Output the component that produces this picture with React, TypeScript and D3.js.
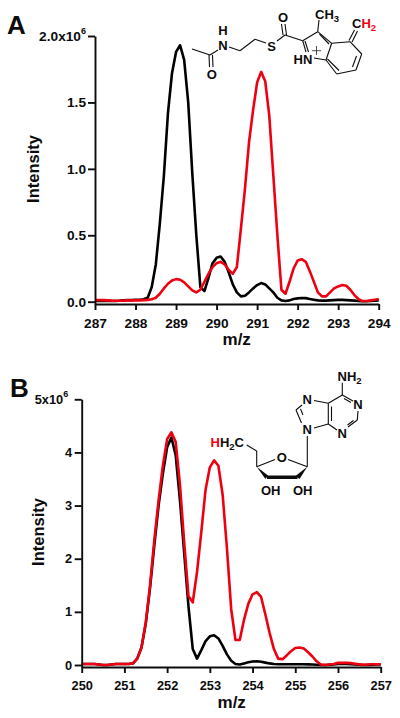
import React, { useEffect, useRef } from 'react';
import * as d3 from 'd3';

// m/z sampled every 0.1 unit, intensities in units of 1e6
const blackA = [
  .005, .005, .005, .005, .005, .005, .007, .01, .012, .012,
  .015, .015, .018, .03, .11, .28, .59, .95, 1.42, 1.72,
  1.88, 1.93, 1.82, 1.5, .97, .5, .11, .08, .18, .29,
  .33, .34, .3, .22, .13, .07, .04, .045, .07, .1,
  .125, .14, .13, .1, .07, .03, .01, .005, .01, .02,
  .025, .028, .027, .02, .015, .01, .008, .008, .01, .012,
  .014, .014, .012, .01, .008, .005, .003, .003, .005, .008,
  .01,
];
const redA = [
  .012, .012, .012, .01, .008, .007, .007, .008, .01, .01,
  .01, .01, .012, .014, .018, .03, .06, .1, .135, .16,
  .17, .165, .145, .115, .085, .07, .09, .15, .21, .26,
  .29, .3, .28, .24, .21, .26, .55, .85, 1.2, 1.44,
  1.65, 1.73, 1.66, 1.4, .95, .5, .09, .06, .15, .25,
  .31, .32, .3, .23, .15, .07, .04, .04, .07, .1,
  .115, .125, .12, .09, .05, .02, .005, .005, .01, .015,
  .02,
];
const blackB = [
  .02, .02, .02, .02, .01, 0, 0, .01, .02, .02,
  .02, .02, .03, .12, .33, .78, 1.45, 2.25, 3.0, 3.6,
  4.1, 4.28, 3.95, 3.1, 2.1, 1.1, .3, .12, .28, .45,
  .54, .56, .5, .36, .2, .08, .02, .01, .03, .05,
  .065, .07, .06, .045, .03, .02, .015, .015, .015, .015,
  .015, .015, .015, .012, .01, .005, 0, 0, .005, .01,
  .02, .02, .02, .015, .01, .005, 0, 0, .005, .01,
  .01,
];
const redB = [
  .02, .02, .02, .02, .01, 0, 0, .01, .02, .02,
  .02, .02, .03, .12, .33, .8, 1.5, 2.35, 3.1, 3.75,
  4.25, 4.38, 4.2, 3.4, 2.3, 1.3, 1.18, 1.75, 2.5, 3.3,
  3.72, 3.85, 3.75, 3.2, 2.2, 1.05, .47, .47, .85, 1.15,
  1.33, 1.37, 1.28, .95, .6, .3, .12, .11, .18, .26,
  .32, .33, .31, .24, .16, .07, .01, 0, .01, .02,
  .04, .04, .04, .035, .025, .012, .005, .01, .015, .015,
  .015,
];
const ticksA = [0, 0.5, 1, 1.5, 2];
const ticksB = [0, 1, 2, 3, 4, 5];

const INK = '#0c0c0c';
const RED = '#ee0010';
const LABEL_FONT = '"Liberation Sans", Arial, sans-serif';

type Seg = [number, number, number, number];
type Lab = [string, number, number];

// structure drawings, pixel coordinates of the figure
const bondsA: Seg[] = [
  [192, 49, 210, 55], [210, 55, 218, 50], [229, 47, 240, 50.7], [240, 50.7, 255, 39.3], [255, 39.3, 266, 43],
  [277, 41, 285, 35], [285, 35, 302.7, 40.7], [302.7, 40.7, 317.7, 31.7], [317.7, 31.7, 331.7, 43.3],
  [331.7, 43.3, 326, 60], [326, 60, 314, 58], [302.7, 40.7, 306, 52], [317.7, 31.7, 319, 20],
  [331.7, 43.3, 350, 41.7], [350, 41.7, 361.7, 54], [361.7, 54, 356, 70], [356, 70, 336.7, 74],
  [336.7, 74, 326, 60], [209, 55, 209.5, 67], [212.5, 55, 213, 67], [283, 35, 281.5, 24], [286.5, 35, 285, 24],
  [305, 41, 308.5, 52], [319.5, 34, 329, 44], [349, 40.5, 354.5, 30], [352, 42, 357.5, 31],
  [356.5, 56, 352.5, 67], [339, 70.5, 327.5, 59],
];
const plusA: Seg[] = [[312, 50.7, 321, 50.7], [316.5, 46, 316.5, 55]];
const labelsA: Lab[] = [
  ['H', 223, 30.5], ['N', 223, 45.5], ['O', 211.7, 74], ['S', 271.7, 46.7], ['O', 283, 17], ['HN', 303, 59.5],
];
const bondsB: Seg[] = [
  [342.3, 382.7, 342.3, 395], [342.3, 395, 353, 401], [358, 411, 357.3, 420], [357.3, 420, 348, 427],
  [337, 430, 328.3, 424], [328.3, 424, 328.3, 403.3], [328.3, 403.3, 342.3, 395], [328.3, 403.3, 314, 400.5],
  [302, 405, 296, 410], [296, 410, 301.5, 423], [314, 428, 328.3, 424], [307.3, 436, 307.3, 466.7],
  [307.3, 466.7, 288, 459.5], [275, 459.5, 256.7, 466.7], [256.7, 466.7, 256.7, 451], [256.7, 451, 246.7, 445],
  [344, 398.5, 351, 402.5], [353.5, 420.5, 347.5, 425], [331.5, 421, 331.5, 406.5], [300.5, 409, 303, 415],
];
const wedgesB: string[] = [
  '256.7,466.7 268,475.5 265.5,479', '267,475.5 297.5,475.5 297.5,479 267,479', '307.3,466.7 299.5,479 295.5,476',
];
const labelsB: Lab[] = [
  ['N', 358, 404], ['N', 342.3, 433], ['N', 307.3, 399.3], ['N', 307.3, 429.3], ['O', 281.7, 457.3],
  ['OH', 270.7, 490], ['OH', 302.7, 490],
];

export default function App() {
  const svgRef = useRef<SVGSVGElement>(null);

  useEffect(() => {
    const svg = d3.select(svgRef.current);
    svg.selectAll('*').remove();

    const drawPanel = (p: any) => {
      const x = d3.scaleLinear().domain([p.xMin, p.xMin + 7]).range([p.left, p.right]);
      const y = d3.scaleLinear().domain([0, p.yMax]).range([p.zero, p.top]);
      const yAxis = d3.scaleLinear()
        .domain([y.invert(p.bottom), p.yMax])
        .range([p.bottom, p.top]);

      const g = svg.append('g');

      const line = d3.line<number>()
        .x((_, i) => x(p.xMin + i / 10))
        .y((d) => y(d));

      const series = [[p.black, '#000'], [p.red, RED]];
      series.forEach(([values, color]) => {
        g.append('path')
          .attr('d', line(values))
          .attr('fill', 'none')
          .attr('stroke', color)
          .attr('stroke-width', 2.6)
          .attr('stroke-linejoin', 'round');
      });

      const xAx = g.append('g')
        .attr('transform', `translate(0,${p.bottom})`)
        .call(
          d3.axisBottom(x).ticks(7).tickFormat(d3.format('d') as any)
            .tickSize(6).tickSizeOuter(0).tickPadding(8),
        );
      const yAx = g.append('g')
        .attr('transform', `translate(${p.left},0)`)
        .call(
          d3.axisLeft(yAxis).tickValues(p.ticks).tickFormat(p.format)
            .tickSize(7).tickSizeOuter(0).tickPadding(p.yPad),
        );

      [xAx, yAx].forEach((a) => {
        a.selectAll('path,line').attr('stroke', INK).attr('stroke-width', 1.9);
        a.selectAll('text')
          .attr('fill', INK)
          .style('font', `bold ${p.tickSize}px ${LABEL_FONT}`);
      });

      // top tick carries the power of ten
      yAx.selectAll<SVGTextElement, number>('.tick text')
        .filter((d) => d === p.yMax)
        .attr('dx', p.topDx)
        .append('tspan')
        .text('6')
        .attr('dy', -6.5)
        .style('font-size', '9px');

      g.append('text')
        .text('m/z')
        .attr('x', p.xTitle)
        .attr('y', p.bottom + 41)
        .attr('text-anchor', 'middle')
        .attr('fill', INK)
        .style('font', `bold 17px ${LABEL_FONT}`);

      g.append('text')
        .text('Intensity')
        .attr('transform', `translate(${p.yTitleX},${p.yTitleY}) rotate(-90)`)
        .attr('text-anchor', 'middle')
        .attr('fill', INK)
        .style('font', `bold 16.5px ${LABEL_FONT}`);

      g.append('text')
        .text(p.letter)
        .attr('x', p.letterX)
        .attr('y', p.letterY)
        .attr('fill', INK)
        .style('font', `bold 26px ${LABEL_FONT}`);
    };

    drawPanel({
      letter: 'A', letterX: 7, letterY: 34,
      xMin: 287, left: 95, right: 378.7, top: 36, zero: 301.7, bottom: 304, yMax: 2,
      black: blackA, red: redA, ticks: ticksA, tickSize: 13.7, yPad: 2, topDx: 0,
      format: (d: number) => (d === 2 ? '2.0x10' : d3.format('.1f')(d)),
      xTitle: 236.7, yTitleX: 39, yTitleY: 169,
    });
    drawPanel({
      letter: 'B', letterX: 10, letterY: 397,
      xMin: 250, left: 81.7, right: 380.7, top: 399.3, zero: 665, bottom: 667, yMax: 5,
      black: blackB, red: redB, ticks: ticksB, tickSize: 12.8, yPad: 2.5, topDx: -4,
      format: (d: number) => (d === 5 ? '5x10' : d3.format('d')(d)),
      xTitle: 231.7, yTitleX: 44, yTitleY: 532,
    });

    const bonds = (segs: Seg[], w: number) => {
      svg.append('g').selectAll('line').data(segs).join('line')
        .attr('x1', (d) => d[0]).attr('y1', (d) => d[1])
        .attr('x2', (d) => d[2]).attr('y2', (d) => d[3])
        .attr('stroke', INK).attr('stroke-width', w);
    };
    bonds(bondsA, 1.1);
    bonds(plusA, 0.7);
    bonds(bondsB, 1.1);
    svg.append('g').selectAll('polygon').data(wedgesB).join('polygon')
      .attr('points', (d) => d).attr('fill', INK);

    const labels = (items: Lab[]) => {
      svg.append('g').selectAll('text').data(items).join('text')
        .text((d) => d[0])
        .attr('x', (d) => d[1]).attr('y', (d) => d[2])
        .attr('text-anchor', 'middle')
        .attr('dominant-baseline', 'central')
        .attr('fill', INK)
        .style('font', `bold 13px ${LABEL_FONT}`);
    };
    labels(labelsA);
    labels(labelsB);

    const formula = (parts: [string, string, number?][], xPos: number, yPos: number, anchor = 'start') => {
      const t = svg.append('text')
        .attr('x', xPos).attr('y', yPos)
        .attr('text-anchor', anchor)
        .style('font', `bold 13px ${LABEL_FONT}`);
      parts.forEach(([s, color, shift]) => {
        t.append('tspan').text(s).attr('fill', color)
          .attr('dy', shift ?? 0)
          .style('font-size', shift && shift > 0 ? '9.5px' : '13px');
      });
    };
    formula([['CH', INK], ['3', INK, 3]], 315, 19);
    formula([['C', INK], ['H', RED, 0], ['2', RED, 3]], 352, 28);
    formula([['NH', INK], ['2', INK, 3]], 337.5, 381);
    formula([['H', RED], ['H', INK, 0], ['2', INK, 3], ['C', INK, -3]], 210.5, 447);
  }, []);

  return (
    <svg
      ref={svgRef}
      width={400}
      height={718}
      style={{ position: 'absolute', left: 0, top: 0, background: '#fff' }}
    />
  );
}
